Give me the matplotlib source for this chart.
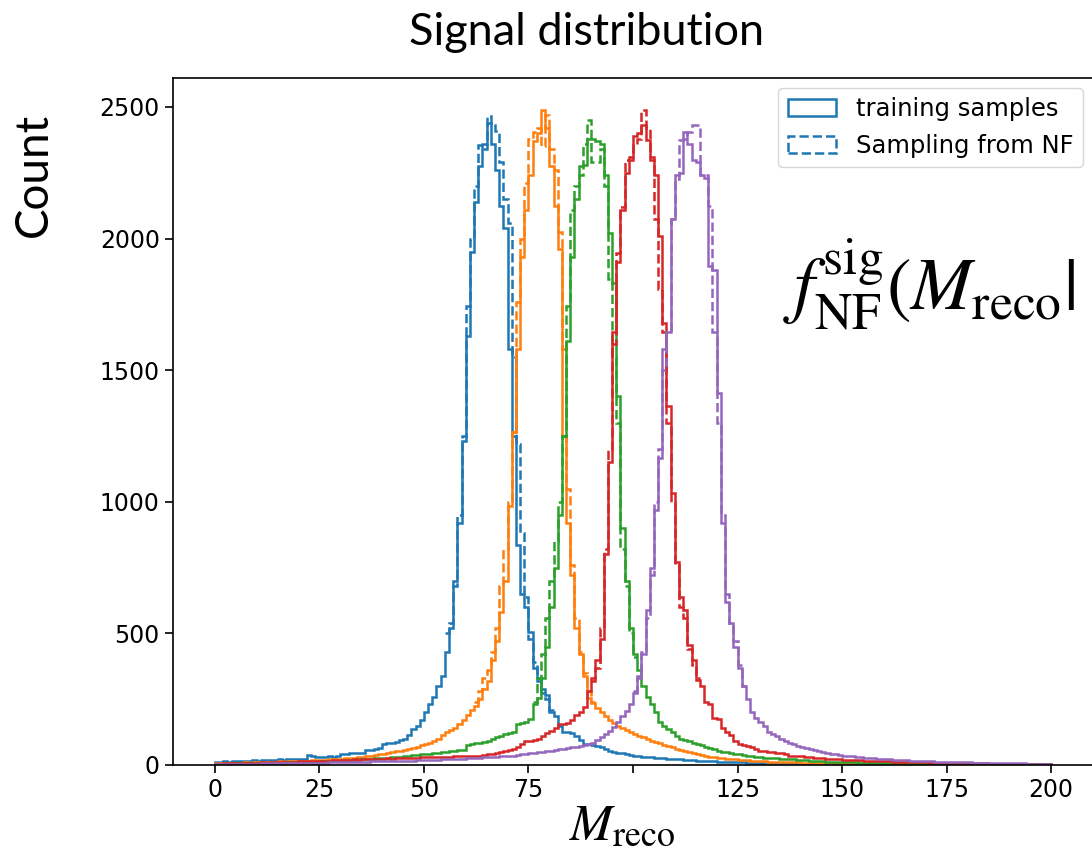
import numpy as np
import matplotlib
matplotlib.use("Agg")
import matplotlib.pyplot as plt
from matplotlib.patches import Patch

plt.rcParams['mathtext.fontset'] = 'stix'

# histogram counts, 1-unit bins from 0 to 200
blue_train = [
    10, 12, 14, 13, 15, 16, 14, 17, 16, 18,
    17, 19, 18, 20, 19, 21, 20, 22, 21, 23,
    22, 24, 38, 36, 30, 32, 31, 33, 32, 34,
    40, 42, 44, 45, 44, 46, 57, 58, 60, 65,
    78, 82, 85, 88, 95, 100, 115, 135, 150, 170,
    200, 230, 260, 300, 340, 430, 520, 700, 920, 1230,
    1630, 1950, 2140, 2275, 2360, 2440, 2360, 2260, 2125, 2040,
    1580, 1250, 835, 650, 600, 505, 370, 320, 275, 265,
    200, 185, 150, 125, 125, 120, 110, 95, 80, 78,
    75, 72, 68, 60, 55, 50, 46, 44, 40, 38,
    36, 34, 32, 30, 29, 28, 27, 25, 24, 23,
    22, 21, 20, 19, 18, 17, 16, 15, 15, 14,
    13, 13, 12, 11, 11, 10, 10, 9, 9, 8,
    8, 8, 7, 7, 7, 6, 6, 6, 6, 5,
    5, 5, 5, 5, 4, 4, 4, 4, 4, 4,
    4, 4, 3, 3, 3, 3, 3, 3, 3, 3,
    3, 3, 3, 2, 2, 2, 2, 2, 2, 2,
    2, 2, 2, 2, 2, 2, 2, 2, 2, 2,
    1, 1, 2, 1, 1, 1, 1, 1, 1, 1,
    1, 1, 1, 1, 1, 1, 1, 1, 1, 1,
]
orange_train = [
    6, 7, 6, 8, 8, 9, 8, 10, 9, 11,
    10, 12, 11, 13, 12, 14, 13, 15, 14, 16,
    15, 17, 16, 18, 19, 18, 20, 21, 22, 23,
    24, 26, 27, 28, 30, 31, 33, 35, 38, 40,
    42, 45, 48, 52, 55, 58, 62, 66, 70, 75,
    80, 85, 92, 100, 115, 125, 132, 140, 155, 170,
    190, 210, 225, 250, 290, 320, 400, 470, 580, 700,
    985, 1265, 1580, 1930, 2110, 2240, 2370, 2400, 2490, 2420,
    2275, 2125, 1960, 1250, 920, 720, 520, 420, 340, 255,
    235, 215, 200, 185, 172, 160, 150, 140, 132, 125,
    118, 112, 105, 98, 92, 86, 82, 77, 72, 67,
    62, 57, 52, 48, 44, 40, 37, 34, 31, 29,
    27, 25, 23, 22, 21, 20, 19, 18, 17, 16,
    15, 14, 13, 13, 12, 12, 11, 11, 10, 10,
    9, 9, 9, 8, 8, 8, 7, 7, 7, 6,
    6, 6, 6, 5, 5, 5, 5, 5, 4, 4,
    4, 4, 4, 4, 4, 3, 3, 3, 3, 3,
    3, 3, 3, 3, 3, 3, 2, 2, 2, 2,
    2, 2, 2, 2, 2, 2, 2, 2, 2, 2,
    2, 2, 1, 1, 1, 1, 1, 1, 1, 1,
]
green_train = [
    4, 4, 5, 4, 5, 6, 5, 6, 6, 7,
    7, 8, 7, 8, 9, 8, 9, 10, 10, 11,
    11, 12, 12, 13, 13, 14, 14, 15, 16, 16,
    17, 18, 19, 20, 21, 22, 23, 24, 25, 26,
    27, 28, 30, 31, 32, 34, 35, 37, 38, 40,
    41, 43, 45, 46, 48, 50, 52, 54, 56, 58,
    75, 78, 82, 85, 88, 90, 100, 107, 112, 118,
    120, 124, 157, 160, 165, 174, 230, 256, 330, 450,
    600, 750, 950, 1250, 1610, 1930, 2150, 2275, 2280, 2380,
    2380, 2370, 2360, 2240, 2020, 1830, 1400, 900, 700, 520,
    420, 360, 300, 260, 230, 200, 165, 150, 135, 125,
    110, 100, 95, 90, 85, 80, 75, 70, 66, 60,
    52, 50, 48, 45, 42, 40, 37, 35, 33, 31,
    30, 28, 27, 26, 25, 24, 23, 22, 21, 20,
    19, 18, 17, 16, 15, 14, 13, 13, 12, 12,
    11, 11, 10, 10, 9, 9, 9, 8, 8, 8,
    7, 7, 7, 6, 6, 6, 6, 5, 5, 5,
    5, 5, 4, 4, 4, 4, 4, 4, 3, 3,
    3, 3, 3, 3, 3, 3, 3, 3, 2, 2,
    2, 2, 2, 2, 2, 2, 2, 2, 2, 2,
]
red_train = [
    5, 5, 6, 6, 7, 6, 7, 8, 8, 9,
    9, 10, 9, 10, 11, 11, 12, 12, 13, 12,
    14, 14, 15, 14, 16, 16, 17, 16, 18, 18,
    19, 19, 20, 21, 20, 21, 22, 23, 22, 23,
    24, 25, 24, 25, 26, 27, 26, 27, 28, 29,
    29, 30, 30, 31, 31, 32, 32, 33, 33, 33,
    33, 34, 35, 36, 38, 40, 42, 45, 50, 55,
    58, 62, 70, 80, 90, 92, 95, 100, 110, 120,
    130, 140, 155, 157, 160, 170, 190, 200, 220, 280,
    330, 400, 480, 800, 1150, 1645, 1910, 2110, 2250, 2310,
    2390, 2400, 2430, 2375, 2300, 2240, 2010, 1680, 1365, 1035,
    770, 640, 587, 455, 400, 322, 300, 240, 230, 180,
    174, 140, 125, 115, 90, 80, 76, 72, 70, 60,
    55, 52, 50, 48, 46, 44, 40, 36, 35, 34,
    33, 32, 30, 28, 27, 25, 24, 23, 22, 21,
    20, 20, 19, 18, 18, 17, 16, 16, 15, 15,
    14, 14, 13, 13, 12, 12, 11, 11, 10, 10,
    10, 9, 9, 9, 8, 8, 8, 7, 7, 7,
    7, 6, 6, 6, 6, 5, 5, 5, 5, 5,
    4, 4, 4, 4, 4, 4, 3, 3, 3, 3,
]
purple_train = [
    3, 3, 4, 3, 4, 4, 5, 4, 5, 5,
    5, 6, 5, 6, 6, 7, 6, 7, 7, 8,
    7, 8, 8, 9, 8, 9, 9, 10, 10, 10,
    11, 11, 12, 12, 12, 13, 13, 14, 14, 14,
    14, 14, 15, 15, 16, 16, 17, 17, 18, 18,
    18, 19, 19, 20, 21, 21, 22, 23, 23, 24,
    25, 26, 27, 28, 29, 30, 31, 32, 33, 34,
    35, 36, 38, 40, 42, 44, 46, 48, 50, 52,
    55, 58, 60, 62, 65, 68, 70, 73, 76, 80,
    85, 95, 105, 118, 130, 145, 165, 185, 207, 230,
    273, 340, 420, 587, 750, 970, 1165, 1580, 1645, 2075,
    2240, 2250, 2405, 2360, 2300, 2290, 2240, 2230, 1895, 1880,
    1415, 920, 620, 540, 450, 370, 300, 250, 200, 180,
    165, 150, 125, 118, 110, 100, 90, 82, 78, 74,
    70, 66, 62, 58, 52, 48, 45, 42, 40, 38,
    36, 35, 34, 32, 30, 28, 26, 25, 24, 23,
    22, 21, 20, 19, 18, 18, 17, 16, 16, 15,
    15, 14, 13, 13, 12, 12, 11, 11, 10, 10,
    10, 9, 9, 9, 8, 8, 8, 7, 7, 7,
    6, 6, 6, 6, 5, 5, 5, 5, 4, 4,
]

# NF samples, only the peak region differs visibly from the training histogram
blue_nf_start = 55
blue_nf = [500, 540, 680, 950, 1250, 1745, 2000, 2200, 2355, 2340, 2465, 2430, 2410,
           2290, 2150, 2060, 1550, 1220, 880, 640, 480, 390, 330, 290, 250, 210]
orange_nf_start = 62
orange_nf = [240, 280, 330, 360, 430, 520, 680, 820, 1000, 1265, 1760, 2000, 2210, 2380,
             2405, 2420, 2350, 2470, 2340, 2260, 2025, 1580, 1050, 760, 560, 430, 350, 280, 240]
green_nf_start = 76
green_nf = [240, 330, 420, 560, 700, 850, 1000, 1250, 1745, 2110, 2200, 2240, 2360,
            2450, 2290, 2290, 2340, 2200, 1845, 1550, 1300, 820, 680, 500, 410]
red_nf_start = 90
red_nf = [320, 370, 520, 820, 1200, 1600, 1945, 2120, 2300, 2300, 2360, 2380, 2490,
          2420, 2310, 2075, 1810, 1645, 1300, 1000, 760, 600, 560, 440, 380, 330]
purple_nf_start = 100
purple_nf = [280, 330, 430, 560, 720, 1000, 1200, 1500, 1645, 2075, 2225, 2375, 2380,
             2405, 2430, 2430, 2240, 2240, 2125, 1645, 1300, 950, 650, 540, 470, 380, 300]

bin_edges = np.arange(0, 201)
x_ticks = [0, 25, 50, 75, 100, 125, 150, 175, 200]
x_ticklabels = ['0', '25', '50', '75', '', '125', '150', '175', '200']
y_ticks = [0, 500, 1000, 1500, 2000, 2500]

colors = ['#1f77b4', '#ff7f0e', '#2ca02c', '#d62728', '#9467bd']
trains = [blue_train, orange_train, green_train, red_train, purple_train]
nfs = [(blue_nf_start, blue_nf), (orange_nf_start, orange_nf), (green_nf_start, green_nf),
       (red_nf_start, red_nf), (purple_nf_start, purple_nf)]

W, H = 1092, 852
fig = plt.figure(figsize=(W / 100, H / 100), dpi=100)
ax = fig.add_axes([173 / W, (H - 765) / H, (1093 - 173) / W, (765 - 78) / H])

for train, (start, nf), c in zip(trains, nfs, colors):
    ax.stairs(train, bin_edges, color=c, lw=1.8)
    ax.stairs(nf, np.arange(start, start + len(nf) + 1), baseline=None,
              color=c, lw=1.8, ls='--')

ax.set_xlim(-10, 210)
ax.set_ylim(0, 2610)
ax.set_xticks(x_ticks)
ax.set_xticklabels(x_ticklabels)
ax.set_yticks(y_ticks)
ax.tick_params(labelsize=17, length=6, width=1.2)
for s in ax.spines.values():
    s.set_linewidth(1.2)

handles = [Patch(facecolor='none', edgecolor=colors[0], lw=1.8, label='training samples'),
           Patch(facecolor='none', edgecolor=colors[0], lw=1.8, ls='--', label='Sampling from NF')]
ax.legend(handles=handles, loc='upper right', fontsize=17.5, borderaxespad=0.4)

fig.text(587 / W, 1 - 45 / H, 'Signal distribution', ha='center', va='baseline',
         fontsize=32.5, family='Lato')
fig.text(34 / W, 1 - 175 / H, 'Count', rotation=90, ha='center', va='center',
         fontsize=33, family='Lato')
fig.text(622 / W, 1 - 840 / H, r'$M_{\rm reco}$', ha='center', va='baseline', fontsize=37)
fig.text(783 / W, 1 - 310 / H, r'$f_{\rm NF}^{\rm sig}(M_{\rm reco}|$', ha='left',
         va='baseline', fontsize=53)

fig.savefig('out.png', dpi=100)
